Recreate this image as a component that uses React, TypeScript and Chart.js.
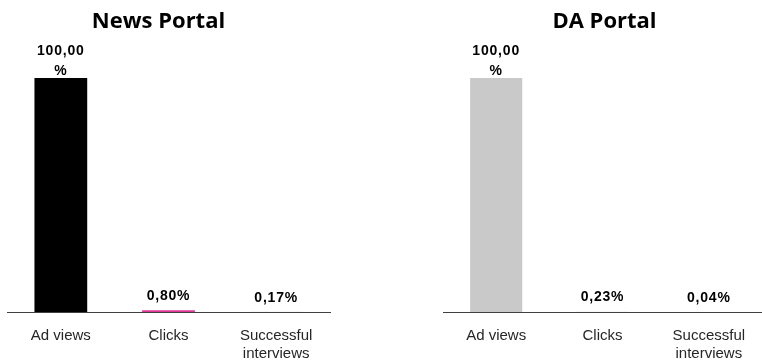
import React, { useEffect, useRef } from "react";
import { Chart, registerables } from "chart.js";

Chart.register(...registerables);

const categories: (string | string[])[] = ["Ad views", "Clicks", ["Successful", "interviews"]];
const newsTitle = "News Portal";
const newsValues = [100, 0.8, 0.17];
const newsColors = ["#000000", "#e0399a", "#f0f0f0"];
const daTitle = "DA Portal";
const daValues = [100, 0.23, 0.04];
const daColors = ["#c9c9c9", "#f0f0f0", "#f0f0f0"];

const fmt = (v: number) => v.toFixed(2).replace(".", ",");

const labelPlugin = {
  id: "panelLabels",
  afterDatasetsDraw(chart: any, _args: any, opts: any) {
    const ctx = chart.ctx as CanvasRenderingContext2D;
    ctx.save();
    ctx.font = 'bold 22px "Open Sans"';
    ctx.fillStyle = "#000";
    ctx.textAlign = "center";
    ctx.textBaseline = "alphabetic";
    const ca = chart.chartArea;
    const tx = (ca.left + ca.right) / 2 + (opts.titleDx || 0);
    ctx.fillText(opts.title || "", tx, 28);
    ctx.font = 'bold 14px "Liberation Sans"';
    (ctx as any).letterSpacing = "0.8px";
    const meta = chart.getDatasetMeta(0);
    const data = chart.data.datasets[0].data as number[];
    meta.data.forEach((bar: any, i: number) => {
      const full = fmt(data[i]) + "%";
      const w = bar.width;
      const lines = ctx.measureText(full).width > w ? [fmt(data[i]), "%"] : [full];
      const lh = 20;
      let last = bar.y - 10;
      const minFirst = 55;
      if (last - lh * (lines.length - 1) < minFirst) last = minFirst + lh * (lines.length - 1);
      lines.forEach((t, k) => {
        const y = last - lh * (lines.length - 1 - k);
        ctx.fillText(t, bar.x, y);
      });
    });
    ctx.restore();
  },
};

function makeConfig(values: number[], colors: string[], title: string, padL: number, padR: number, titleDx: number): any {
  return {
    type: "bar",
    data: {
      labels: categories,
      datasets: [
        {
          data: values,
          backgroundColor: colors,
          borderWidth: 0,
          barPercentage: 0.49,
          categoryPercentage: 1,
        },
      ],
    },
    options: {
      responsive: false,
      animation: false,
      layout: { padding: { top: 78, left: padL, right: padR, bottom: 0 } },
      plugins: {
        legend: { display: false },
        tooltip: { enabled: false },
        title: { display: false },
        panelLabels: { title, titleDx },
      },
      scales: {
        x: {
          grid: { display: false, drawTicks: false },
          border: { display: true, color: "#404040", width: 1 },
          ticks: {
            color: "#262626",
            font: { family: '"Liberation Sans"', size: 15 },
            padding: 15,
            maxRotation: 0,
            autoSkip: false,
          },
        },
        y: {
          display: false,
          min: 0,
          max: 100,
        },
      },
    },
    plugins: [labelPlugin],
  };
}

function Panel(props: { values: number[]; colors: string[]; title: string; padL: number; padR: number; titleDx: number; left: number }) {
  const ref = useRef<HTMLCanvasElement>(null);
  useEffect(() => {
    if (!ref.current) return;
    const chart = new Chart(ref.current, makeConfig(props.values, props.colors, props.title, props.padL, props.padR, props.titleDx));
    return () => chart.destroy();
  }, []);
  return (
    <canvas
      ref={ref}
      width={381}
      height={378}
      style={{ position: "absolute", left: props.left, top: 0, width: 381, height: 378 }}
    />
  );
}

export default function App() {
  return (
    <div style={{ position: "fixed", left: 0, top: 0, width: 762, height: 363, background: "#fff", overflow: "hidden" }}>
      <Panel values={newsValues} colors={newsColors} title={newsTitle} padL={7} padR={51} titleDx={-10} left={0} />
      <Panel values={daValues} colors={daColors} title={daTitle} padL={62} padR={0} titleDx={2} left={381} />
    </div>
  );
}
